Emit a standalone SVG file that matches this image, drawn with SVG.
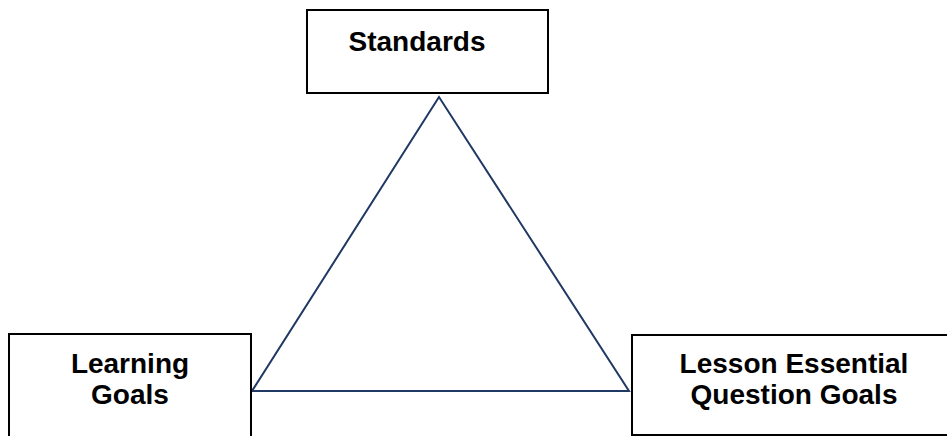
<svg xmlns="http://www.w3.org/2000/svg" width="947" height="436" viewBox="0 0 947 436">
<style>
.box{fill:#fff;stroke:#000;stroke-width:2}
.t{font-family:"Liberation Sans",Arial,sans-serif;font-weight:bold;font-size:28px;fill:#000;text-anchor:middle}
.edge{fill:none;stroke:#1F3864;stroke-width:2;stroke-linejoin:miter}
</style>
<rect width="947" height="436" fill="#fff"/>
<g id="connectors">
<polygon class="edge" points="439,97 252,391 629,391"/>
</g>
<g id="standards">
<rect class="box" x="307" y="10" width="241" height="83"/>
<text class="t" x="417" y="51">Standards</text>
</g>
<g id="learning-goals">
<rect class="box" x="9" y="334" width="242" height="110"/>
<text class="t" x="130" y="373">Learning</text>
<text class="t" x="130" y="404">Goals</text>
</g>
<g id="lesson-essential-question-goals">
<rect class="box" x="632" y="335" width="330" height="100"/>
<text class="t" x="794" y="373">Lesson Essential</text>
<text class="t" x="794" y="404">Question Goals</text>
</g>
</svg>
